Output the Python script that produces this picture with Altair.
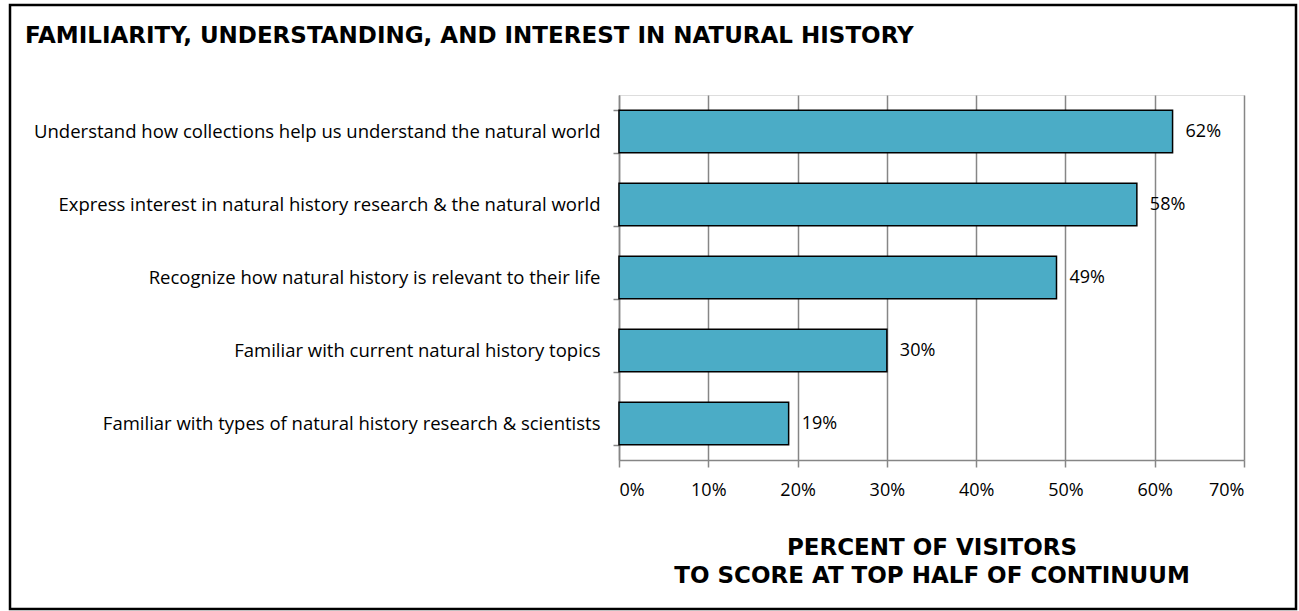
import altair as alt
import pandas as pd

categories = [
    "Understand how collections help us understand the natural world",
    "Express interest in natural history research & the natural world",
    "Recognize how natural history is relevant to their life",
    "Familiar with current natural history topics",
    "Familiar with types of natural history research & scientists",
]
values = [62, 58, 49, 30, 19]
x_ticks = [0, 10, 20, 30, 40, 50, 60, 70]

df = pd.DataFrame({"cat": categories, "val": values})
df["label"] = [f"{v}%" for v in values]

FONT = "Open Sans"
BOLD = "DejaVu Sans"
GRID = "#868686"

y_enc = alt.Y(
    "cat:N",
    sort=categories,
    scale=alt.Scale(paddingInner=0.42, paddingOuter=0.21),
    axis=alt.Axis(
        title=None,
        tickBand="extent",
        domainColor=GRID,
        domainWidth=1.5,
        tickColor=GRID,
        tickWidth=1.5,
        tickSize=6,
        labelPadding=13,
        labelFont=FONT,
        labelFontSize=18.5,
        labelColor="black",
        labelLimit=800,
        grid=False,
    ),
)

x_enc = alt.X(
    "val:Q",
    scale=alt.Scale(domain=[0, 70], nice=False),
    axis=alt.Axis(
        values=x_ticks,
        labelExpr="datum.value + '%'",
        title=["PERCENT OF VISITORS", "TO SCORE AT TOP HALF OF CONTINUUM"],
        titleFont=BOLD,
        titleFontSize=23,
        titleFontWeight="bold",
        titleColor="black",
        titlePadding=37,
        titleLineHeight=28,
        grid=True,
        gridColor=GRID,
        gridWidth=1.5,
        domainColor=GRID,
        domainWidth=1.5,
        tickColor=GRID,
        tickWidth=1.5,
        tickSize=7,
        labelPadding=14,
        labelFont=FONT,
        labelFontSize=18,
        labelColor="black",
    ),
)

bars = alt.Chart(df).mark_bar(
    color="#4BACC6", stroke="black", strokeWidth=1.5
).encode(x=x_enc, y=y_enc)

labels = alt.Chart(df).mark_text(
    align="left", baseline="middle", dx=13, font=FONT, fontSize=18, color="black"
).encode(x="val:Q", y=alt.Y("cat:N", sort=categories), text="label:N")

frame = alt.Chart(pd.DataFrame({"a": [0]})).mark_rect(
    filled=False, stroke="black", strokeWidth=2.5
).encode(
    x=alt.value(-609), x2=alt.value(677), y=alt.value(-90), y2=alt.value(514)
)

chart = alt.layer(bars, labels, frame).properties(
    width=625,
    height=365,
    padding={"left": 619, "top": 95, "right": 55, "bottom": 151},
    autosize=alt.AutoSizeParams(type="none"),
    title=alt.TitleParams(
        "FAMILIARITY, UNDERSTANDING, AND INTEREST IN NATURAL HISTORY",
        anchor="start",
        frame="group",
        dx=-594,
        offset=-44,
        font=BOLD,
        fontSize=23,
        fontWeight="bold",
        color="black",
    ),
).configure_view(stroke=None).configure(background="white")

chart.save("out.html", embed_options={"renderer": "svg", "actions": False})
